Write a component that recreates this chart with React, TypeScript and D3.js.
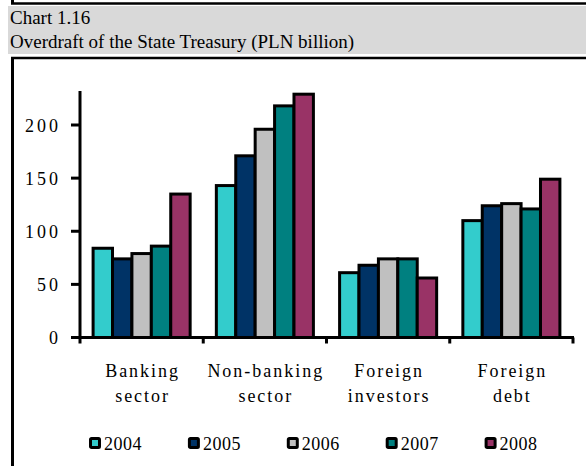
import React, { useEffect, useRef } from 'react';
import * as d3 from 'd3';

const categories = [['Banking', 'sector'], ['Non-banking', 'sector'], ['Foreign', 'investors'], ['Foreign', 'debt']];
const years = ['2004', '2005', '2006', '2007', '2008'];
const colors = ['#33CCCC', '#003366', '#C0C0C0', '#008080', '#993366'];

// values per category, one per year
const banking = [84, 74, 79, 86, 135];
const nonBanking = [143, 171, 196, 218, 229];
const foreignInvestors = [61, 68, 74, 74, 56];
const foreignDebt = [110, 124, 126, 121, 149];
const series = [banking, nonBanking, foreignInvestors, foreignDebt];

const yTicks = [0, 50, 100, 150, 200];

const W = 586;
const H = 466;
const FONT = 'Liberation Serif, Times New Roman, serif';

const App = () => {
  const svgRef = useRef<SVGSVGElement>(null);

  useEffect(() => {
    const svg = d3.select(svgRef.current);
    svg.selectAll('*').remove();

    // frame + title block
    svg.append('line').attr('x1', 12.5).attr('x2', 12.5).attr('y1', 0).attr('y2', 4)
      .attr('stroke', '#000').attr('stroke-width', 3);
    svg.append('line').attr('x1', 11).attr('x2', W).attr('y1', 3.5).attr('y2', 3.5)
      .attr('stroke', '#000').attr('stroke-width', 2.5);
    svg.append('rect').attr('x', 8).attr('y', 6).attr('width', W - 8).attr('height', 48).attr('fill', '#d9d9d9');
    svg.append('text').attr('x', 10).attr('y', 24).attr('font-size', 19).attr('font-family', FONT)
      .text('Chart 1.16');
    svg.append('text').attr('x', 10).attr('y', 48).attr('font-size', 19).attr('font-family', FONT)
      .text('Overdraft of the State Treasury (PLN billion)');
    svg.append('line').attr('x1', 11).attr('x2', W).attr('y1', 58).attr('y2', 58)
      .attr('stroke', '#000').attr('stroke-width', 2.5);
    svg.append('line').attr('x1', 12.5).attr('x2', 12.5).attr('y1', 57).attr('y2', H)
      .attr('stroke', '#000').attr('stroke-width', 3);

    // scales
    const x0 = d3.scaleBand<number>()
      .domain(d3.range(categories.length))
      .range([80, 573])
      .paddingInner(0)
      .paddingOuter(0);
    const x1 = d3.scaleBand<string>()
      .domain(years)
      .range([0, x0.bandwidth()])
      .paddingInner(0)
      .paddingOuter(0.675);
    const y = d3.scaleLinear().domain([0, 232]).range([337.5, 91]);

    // bars
    const groups = svg.append('g').selectAll('g')
      .data(series)
      .enter()
      .append('g')
      .attr('transform', (d, i) => `translate(${x0(i)},0)`);
    groups.selectAll('rect')
      .data(d => d)
      .enter()
      .append('rect')
      .attr('x', (d, i) => x1(years[i]) || 0)
      .attr('y', d => y(d))
      .attr('width', x1.bandwidth())
      .attr('height', d => y(0) - y(d))
      .attr('fill', (d, i) => colors[i])
      .attr('stroke', '#000')
      .attr('stroke-width', 3);

    // y axis
    const yAxis = svg.append('g');
    yAxis.append('line').attr('x1', 80).attr('x2', 80).attr('y1', y.range()[1]).attr('y2', y(0) + 1.5)
      .attr('stroke', '#000').attr('stroke-width', 3);
    yAxis.selectAll('.tick')
      .data(yTicks)
      .enter()
      .append('line')
      .attr('x1', 71).attr('x2', 80)
      .attr('y1', d => y(d)).attr('y2', d => y(d))
      .attr('stroke', '#000').attr('stroke-width', 3);
    yAxis.selectAll('text')
      .data(yTicks)
      .enter()
      .append('text')
      .attr('x', 61)
      .attr('y', d => y(d) + 6.5)
      .attr('text-anchor', 'end')
      .attr('font-size', 18)
      .attr('font-family', FONT)
      .attr('letter-spacing', 3)
      .text(d => d);

    // x axis
    const xAxis = svg.append('g');
    xAxis.append('line').attr('x1', 80).attr('x2', 574).attr('y1', y(0)).attr('y2', y(0))
      .attr('stroke', '#000').attr('stroke-width', 3);
    const bounds = d3.range(categories.length + 1).map(i => 80 + i * x0.step());
    xAxis.selectAll('.tick')
      .data(bounds)
      .enter()
      .append('line')
      .attr('x1', d => d).attr('x2', d => d)
      .attr('y1', y(0)).attr('y2', y(0) + 6)
      .attr('stroke', '#000').attr('stroke-width', 3);
    const labels = xAxis.selectAll('.label')
      .data(categories)
      .enter()
      .append('text')
      .attr('text-anchor', 'middle')
      .attr('font-size', 18)
      .attr('font-family', FONT)
      .attr('letter-spacing', 2);
    labels.each(function (d, i) {
      const t = d3.select(this);
      d.forEach((line, j) => {
        t.append('tspan')
          .attr('x', (x0(i) || 0) + x0.bandwidth() / 2 + 1)
          .attr('y', 377 + j * 24.5)
          .text(line);
      });
    });

    // legend
    const legend = svg.append('g').selectAll('g')
      .data(years)
      .enter()
      .append('g')
      .attr('transform', (d, i) => `translate(${89.5 + i * 98.9},437.5)`);
    legend.append('rect')
      .attr('x', 1).attr('y', 1)
      .attr('width', 9).attr('height', 9)
      .attr('rx', 1)
      .attr('fill', (d, i) => colors[i])
      .attr('stroke', '#000')
      .attr('stroke-width', 3);
    legend.append('text')
      .attr('x', 14.5)
      .attr('y', 12)
      .attr('font-size', 18)
      .attr('font-family', FONT)
      .attr('letter-spacing', 0.5)
      .text(d => d);
  }, []);

  return (
    <div style={{ position: 'fixed', left: 0, top: 0, width: W, height: H, background: '#fff' }}>
      <svg ref={svgRef} width={W} height={H} viewBox={`0 0 ${W} ${H}`} />
    </div>
  );
};

export default App;
